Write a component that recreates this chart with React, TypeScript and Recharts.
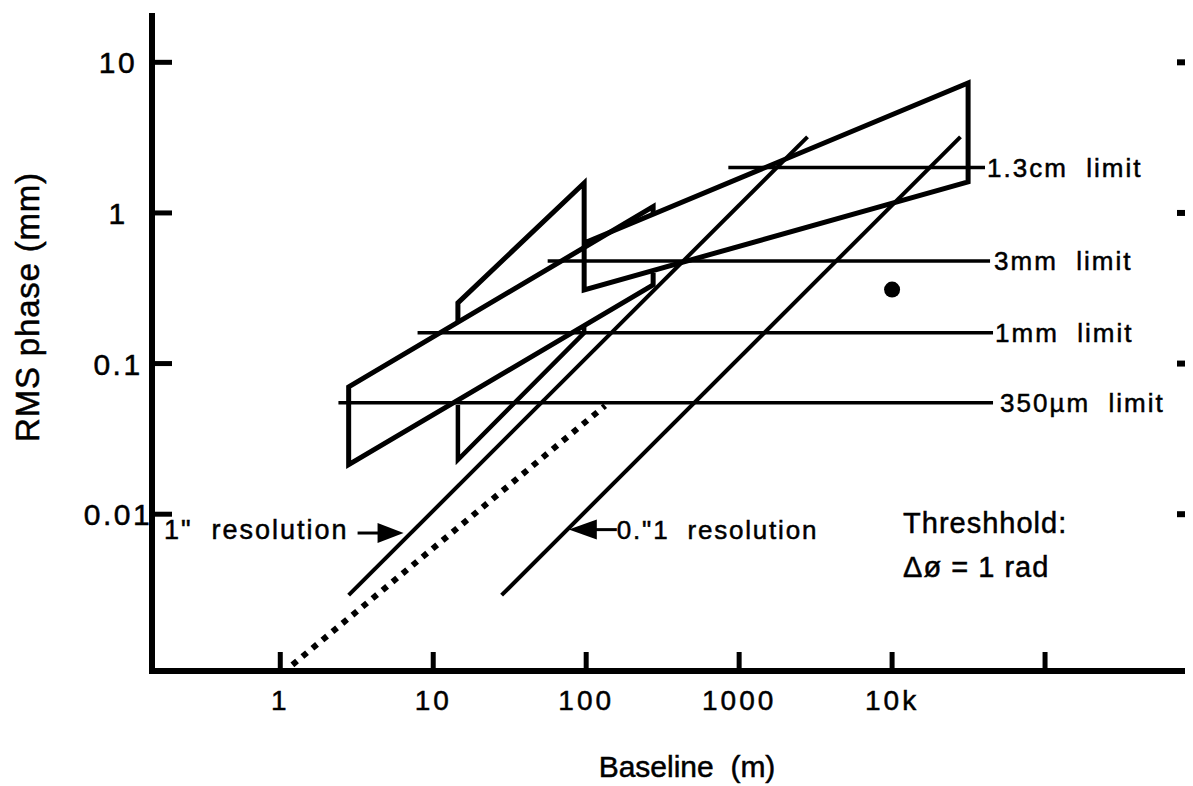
import React from 'react';
import { ComposedChart, Line, Scatter, XAxis, YAxis, Label } from 'recharts';

const FONT = '"Liberation Sans", Arimo, Arial, Helvetica, sans-serif';

// ---- axes ----
const xTicks = [1, 10, 100, 1000, 10000, 100000];
const xTickLabels = ['1', '10', '100', '1000', '10k', ''];
const yTicks = [0.01, 0.1, 1, 10];
const yTickLabels = ['0.01', '0.1', '1', '10'];
const xDomain = [0.145, 1000000];
const yDomain = [0.00091, 20.3];

// ---- site envelopes (baseline m, RMS phase mm) ----
const bandLeft = [
  { x: 274, y: 0.97 }, { x: 274, y: 1.1 }, { x: 2.8, y: 0.07 },
  { x: 2.8, y: 0.0213 }, { x: 274, y: 0.333 }, { x: 274, y: 0.4 },
];
const bandUpper = [
  { x: 14.5, y: 0.186 }, { x: 14.5, y: 0.253 }, { x: 97, y: 1.58 },
  { x: 97, y: 0.308 }, { x: 31400, y: 1.61 }, { x: 31400, y: 7.29 }, { x: 97, y: 0.632 },
];
const bandLower = [
  { x: 14.5, y: 0.053 }, { x: 14.5, y: 0.023 }, { x: 97, y: 0.16 }, { x: 97, y: 0.18 },
];

// ---- resolution lines ----
const res1arcsec = [{ x: 2.8, y: 0.0029 }, { x: 2800, y: 3.2 }];
const res01arcsec = [{ x: 28, y: 0.0029 }, { x: 28000, y: 3.2 }];
const resDotted = [{ x: 1.2, y: 0.001 }, { x: 133, y: 0.0525 }];

// ---- wavelength limits ----
const limit13cm = [{ x: 850, y: 2.0 }, { x: 40500, y: 2.0 }];
const limit3mm = [{ x: 56, y: 0.48 }, { x: 43700, y: 0.48 }];
const limit1mm = [{ x: 7.9, y: 0.16 }, { x: 45700, y: 0.16 }];
const limit350um = [{ x: 2.4, y: 0.055 }, { x: 45700, y: 0.055 }];

// ---- measurement ----
const measured = [{ x: 10000, y: 0.31 }];

// ---- annotations ----
const limitLabels = [
  { x: 40500, y: 2.0, text: '1.3cm  limit', gap: 2 },
  { x: 43700, y: 0.48, text: '3mm  limit', gap: 4 },
  { x: 45700, y: 0.16, text: '1mm  limit', gap: 2 },
  { x: 45700, y: 0.055, text: '350\u00b5m  limit', gap: 7 },
];
const arrowNotes = [
  { x: 6.4, y: 0.0075, text: '1"  resolution', dir: 'right' },
  { x: 77, y: 0.0079, text: '0."1  resolution', dir: 'left' },
];
const thresholdNotes = [
  { x: 11800, y: 0.00877, text: 'Threshhold:' },
  { x: 11800, y: 0.00448, text: '\u0394\u00f8 = 1 rad' },
];

const findLabel = (ticks: number[], labels: string[], v: number) => {
  const i = ticks.findIndex((t) => Math.abs(Math.log10(t) - Math.log10(v)) < 1e-6);
  return i >= 0 ? labels[i] : '';
};

const ink = { fill: '#000', stroke: '#000', strokeWidth: 0.5 };

const BottomTick = (p: any) => {
  const { x, y, payload } = p;
  return (
    <g>
      <line x1={x} x2={x} y1={y} y2={y - 19} stroke="#000" strokeWidth={5} />
      <text x={x} y={y + 39} textAnchor="middle" fontSize={28} fontFamily={FONT} letterSpacing={3} {...ink}>
        {findLabel(xTicks, xTickLabels, payload.value)}
      </text>
    </g>
  );
};
const TopTick = (p: any) => {
  const { x, y } = p;
  return <line x1={x} x2={x} y1={y} y2={y + 19} stroke="#000" strokeWidth={5} />;
};
const LeftTick = (p: any) => {
  const { x, y, payload } = p;
  return (
    <g>
      <line x1={x} x2={x + 20} y1={y} y2={y} stroke="#000" strokeWidth={5} />
      <text x={x - 34} y={y + 11} textAnchor="middle" fontSize={30} fontFamily={FONT} letterSpacing={2.5} {...ink}>
        {findLabel(yTicks, yTickLabels, payload.value)}
      </text>
    </g>
  );
};
const RightTick = (p: any) => {
  const { x, y } = p;
  return <line x1={x} x2={x - 21} y1={y} y2={y} stroke="#000" strokeWidth={6} />;
};

const textStyle: React.CSSProperties = { whiteSpace: 'pre' };

const LimitLabelShape = (p: any) => {
  const { cx, cy, payload } = p;
  return (
    <text x={cx + payload.gap} y={cy} dy="0.36em" fontSize={26} letterSpacing={2} fontFamily={FONT} {...ink} style={textStyle}>
      {payload.text}
    </text>
  );
};
const ArrowShape = (p: any) => {
  const { cx, cy, payload } = p;
  if (payload.dir === 'right') {
    return (
      <g>
        <polygon points={`${cx},${cy} ${cx - 26},${cy - 10} ${cx - 26},${cy + 10}`} fill="#000" />
        <line x1={cx - 46} x2={cx - 24} y1={cy} y2={cy} stroke="#000" strokeWidth={3} />
        <text x={cx - 55} y={cy - 4} dy="0.36em" textAnchor="end" fontSize={27} letterSpacing={2} fontFamily={FONT} {...ink} style={textStyle}>
          {payload.text}
        </text>
      </g>
    );
  }
  return (
    <g>
      <polygon points={`${cx},${cy} ${cx + 28},${cy - 10} ${cx + 28},${cy + 10}`} fill="#000" />
      <line x1={cx + 26} x2={cx + 48} y1={cy} y2={cy} stroke="#000" strokeWidth={3} />
      <text x={cx + 48} y={cy} dy="0.36em" fontSize={26} letterSpacing={1.8} fontFamily={FONT} {...ink} style={textStyle}>
        {payload.text}
      </text>
    </g>
  );
};
const NoteShape = (p: any) => {
  const { cx, cy, payload } = p;
  return (
    <text x={cx} y={cy} dy="0.36em" fontSize={29} letterSpacing={1} fontFamily={FONT} {...ink} style={textStyle}>
      {payload.text}
    </text>
  );
};
const DotShape = (p: any) => <circle cx={p.cx} cy={p.cy} r={8} fill="#000" />;

const axisLine = { stroke: '#000', strokeWidth: 6, strokeLinecap: 'square' as const };

export default function App() {
  const common = { xAxisId: 'b', yAxisId: 'l', dataKey: 'y', dot: false, activeDot: false, isAnimationActive: false, stroke: '#000', type: 'linear' as const, legendType: 'none' as const };
  return (
    <div style={{ width: 1185, height: 778, overflow: 'hidden' }}>
      <ComposedChart width={1200} height={778} margin={{ top: 8, right: 0, bottom: 0, left: 0 }}>
        <XAxis xAxisId="b" dataKey="x" type="number" scale="log" domain={xDomain} allowDataOverflow ticks={xTicks} interval={0}
          orientation="bottom" height={115} tickSize={0} tickMargin={0} tickLine={false} axisLine={axisLine} tick={BottomTick}>
          <Label content={(p: any) => {
            const vb = p.viewBox || { x: 144, y: 663, width: 1046, height: 115 };
            return (
              <text x={vb.x + vb.width / 2 + 12} y={vb.y + 106} textAnchor="middle" fontSize={30} fontFamily={FONT} {...ink} style={textStyle}>
                Baseline  (m)
              </text>
            );
          }} />
        </XAxis>
        <XAxis xAxisId="t" dataKey="x" type="number" scale="log" domain={xDomain} allowDataOverflow ticks={xTicks} interval={0}
          orientation="top" height={0} tickSize={0} tickMargin={0} tickLine={false} axisLine={axisLine} tick={TopTick} />
        <YAxis yAxisId="l" dataKey="y" type="number" scale="log" domain={yDomain} allowDataOverflow ticks={yTicks} interval={0}
          orientation="left" width={144} tickSize={0} tickMargin={0} tickLine={false} axisLine={axisLine} tick={LeftTick}>
          <Label content={(p: any) => {
            const vb = p.viewBox || { x: 0, y: 8, width: 144, height: 655 };
            const tx = vb.x + 31;
            const ty = vb.y + 291;
            return (
              <text x={tx} y={ty} transform={`rotate(-90, ${tx}, ${ty})`} textAnchor="middle" fontSize={33} letterSpacing={0.8} fontFamily={FONT} {...ink}>
                RMS phase (mm)
              </text>
            );
          }} />
        </YAxis>
        <YAxis yAxisId="r" dataKey="y" type="number" scale="log" domain={yDomain} allowDataOverflow ticks={yTicks} interval={0}
          orientation="right" width={10} tickSize={0} tickMargin={0} tickLine={false} axisLine={axisLine} tick={RightTick} />

        <Line {...common} data={limit13cm} strokeWidth={3.5} />
        <Line {...common} data={limit3mm} strokeWidth={3.5} />
        <Line {...common} data={limit1mm} strokeWidth={3.5} />
        <Line {...common} data={limit350um} strokeWidth={3.5} />

        <Line {...common} data={bandLeft} strokeWidth={5} />
        <Line {...common} data={bandUpper} strokeWidth={5} />
        <Line {...common} data={bandLower} strokeWidth={4.5} />

        <Line {...common} data={res1arcsec} strokeWidth={4} />
        <Line {...common} data={res01arcsec} strokeWidth={4} />
        <Line {...common} data={resDotted} strokeWidth={6} strokeDasharray="6 7" />

        <Scatter xAxisId="b" yAxisId="l" data={measured} shape={DotShape} isAnimationActive={false} legendType="none" />
        <Scatter xAxisId="b" yAxisId="l" data={limitLabels} shape={LimitLabelShape} isAnimationActive={false} legendType="none" />
        <Scatter xAxisId="b" yAxisId="l" data={arrowNotes} shape={ArrowShape} isAnimationActive={false} legendType="none" />
        <Scatter xAxisId="b" yAxisId="l" data={thresholdNotes} shape={NoteShape} isAnimationActive={false} legendType="none" />
      </ComposedChart>
    </div>
  );
}
